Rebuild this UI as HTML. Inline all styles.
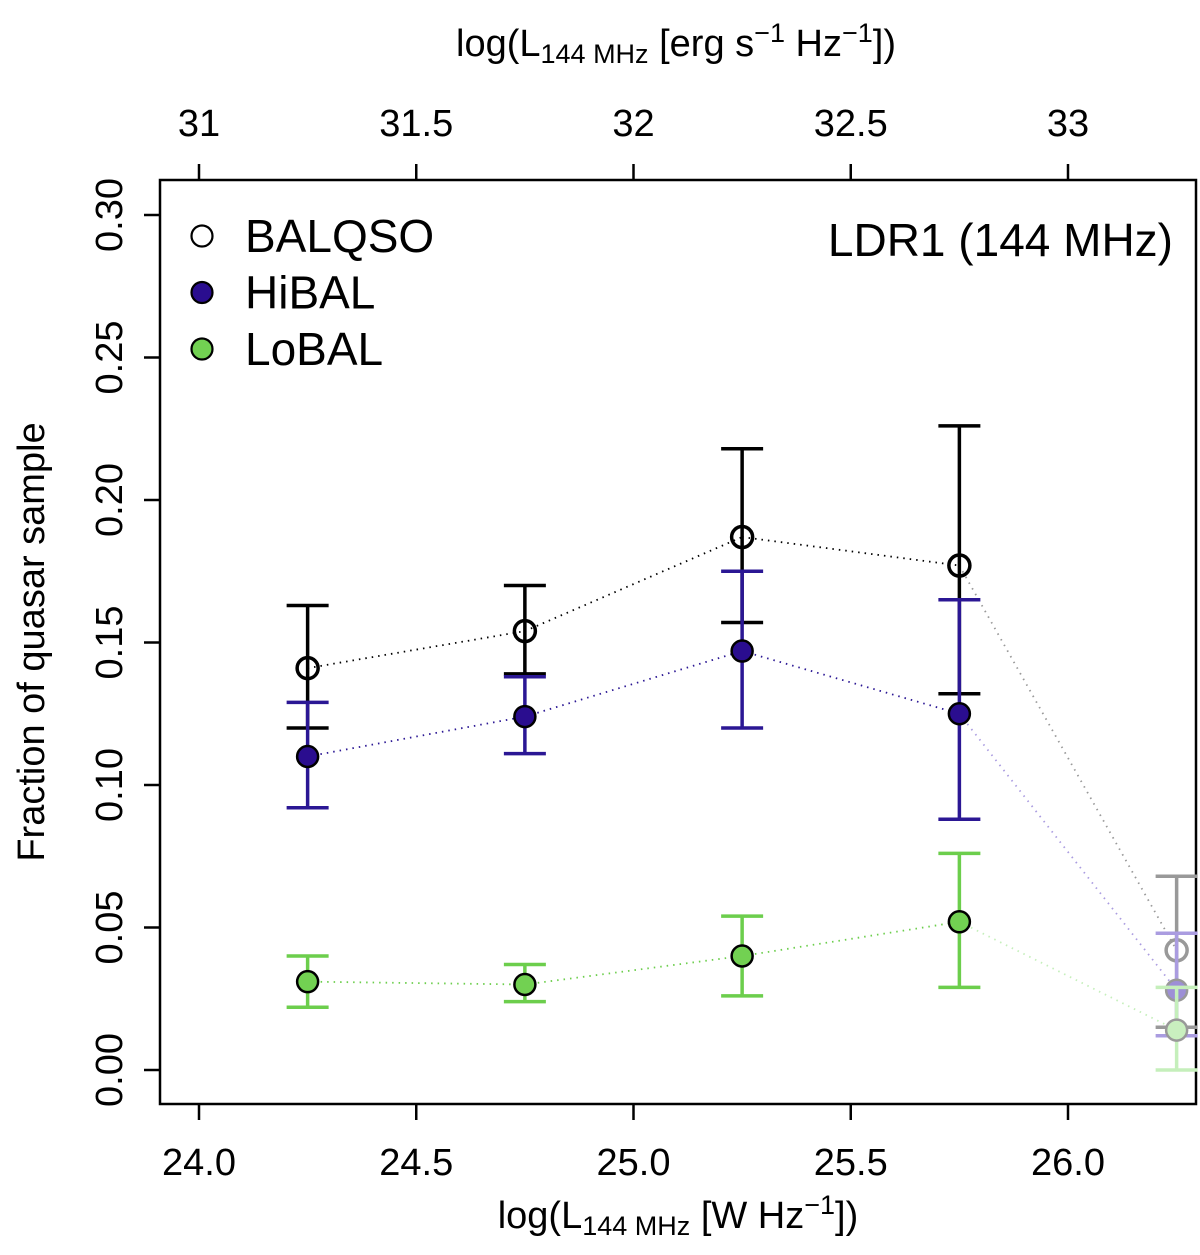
<!DOCTYPE html>
<html><head><meta charset="utf-8"><style>
html,body{margin:0;padding:0;background:#fff;}
svg{display:block;font-family:"Liberation Sans",sans-serif;}
</style></head><body>
<svg id="chart" width="1200" height="1255" viewBox="0 0 1200 1255">
<g id="g"></g>
</svg>
<script>
const xCats = [24.25, 24.75, 25.25, 25.75, 26.25];
const balVal = [0.141, 0.154, 0.187, 0.177, 0.042];
const balHi = [0.163, 0.170, 0.218, 0.226, 0.068];
const balLo = [0.120, 0.139, 0.157, 0.132, 0.015];
const hiVal = [0.110, 0.124, 0.147, 0.125, 0.028];
const hiHi = [0.129, 0.138, 0.175, 0.165, 0.048];
const hiLo = [0.092, 0.111, 0.120, 0.088, 0.012];
const loVal = [0.031, 0.030, 0.040, 0.052, 0.014];
const loHi = [0.040, 0.037, 0.054, 0.076, 0.029];
const loLo = [0.022, 0.024, 0.026, 0.029, 0.000];
const bottomTicks = [24.0, 24.5, 25.0, 25.5, 26.0];
const bottomLabels = ["24.0","24.5","25.0","25.5","26.0"];
const topTicks = [31, 31.5, 32, 32.5, 33];
const topLabels = ["31","31.5","32","32.5","33"];
const yTicks = [0, 0.05, 0.10, 0.15, 0.20, 0.25, 0.30];
const yLabels = ["0.00","0.05","0.10","0.15","0.20","0.25","0.30"];

const NS="http://www.w3.org/2000/svg";
const g=document.getElementById('g');
const X=v=>199+(v-24)*434.5;
const XT=v=>199+(v-31)*434.5;
const Y=v=>1070-v*2850;
function el(tag,attrs,name,text){
  const e=document.createElementNS(NS,tag);
  for(const k in attrs)e.setAttribute(k,attrs[k]);
  
  
  if(text!==undefined)e.textContent=text;
  g.appendChild(e);return e;
}
el('rect',{x:160,y:180,width:1036,height:924,fill:'none',stroke:'#000','stroke-width':2.5},'plot-frame');
bottomTicks.forEach((t,i)=>{
  el('line',{x1:X(t),x2:X(t),y1:1104,y2:1120,stroke:'#000','stroke-width':2.5},'x-tick');
  el('text',{x:X(t),y:1175,'font-size':38,'text-anchor':'middle'},'x-tick-label',bottomLabels[i]);
});
topTicks.forEach((t,i)=>{
  el('line',{x1:XT(t),x2:XT(t),y1:180,y2:164,stroke:'#000','stroke-width':2.5},'top-tick');
  el('text',{x:XT(t),y:136,'font-size':38,'text-anchor':'middle'},'top-tick-label',topLabels[i]);
});
yTicks.forEach((t,i)=>{
  el('line',{x1:160,x2:144,y1:Y(t),y2:Y(t),stroke:'#000','stroke-width':2.5},'y-tick');
  el('text',{x:0,y:0,'font-size':38,'text-anchor':'middle',transform:`translate(122,${Y(t)}) rotate(-90)`},'y-tick-label',yLabels[i]);
});
const xt=el('text',{x:678,y:1228,'font-size':38,'text-anchor':'middle'},'x-axis-title');
xt.innerHTML='log(L<tspan font-size="27" dy="7">144 MHz</tspan><tspan dy="-7"> [W Hz</tspan><tspan font-size="27" dy="-14">−1</tspan><tspan dy="14">])</tspan>';
const tt=el('text',{x:676,y:56,'font-size':38,'text-anchor':'middle'},'top-axis-title');
tt.innerHTML='log(L<tspan font-size="27" dy="7">144 MHz</tspan><tspan dy="-7"> [erg s</tspan><tspan font-size="27" dy="-14">−1</tspan><tspan dy="14"> Hz</tspan><tspan font-size="27" dy="-14">−1</tspan><tspan dy="14">])</tspan>';
el('text',{x:0,y:0,'font-size':38,'text-anchor':'middle',transform:'translate(44,642) rotate(-90)'},'y-axis-title','Fraction of quasar sample');
el('text',{x:1173,y:256,'font-size':46,'text-anchor':'end'},'panel-label','LDR1 (144 MHz)');

function series(vals,his,los,col,fadeCol,fill,fadeFill,stroke,fadeStroke,sw,name){
  const n=vals.length;
  for(let i=0;i<n-1;i++){
    const c=i===n-2?fadeCol:col;
    el('line',{x1:X(xCats[i]),y1:Y(vals[i]),x2:X(xCats[i+1]),y2:Y(vals[i+1]),stroke:c,'stroke-width':1.8,'stroke-dasharray':'1.5 5'},name+'-line');
  }
  for(let i=0;i<n;i++){
    const c=i===n-1?fadeCol:col, x=X(xCats[i]);
    el('line',{x1:x,x2:x,y1:Y(his[i]),y2:Y(los[i]),stroke:c,'stroke-width':3.5},name+'-errorbar');
    el('line',{x1:x-21,x2:x+21,y1:Y(his[i]),y2:Y(his[i]),stroke:c,'stroke-width':3.5},name+'-cap-high');
    el('line',{x1:x-21,x2:x+21,y1:Y(los[i]),y2:Y(los[i]),stroke:c,'stroke-width':3.5},name+'-cap-low');
  }
  for(let i=0;i<n;i++){
    const last=i===n-1;
    el('circle',{cx:X(xCats[i]),cy:Y(vals[i]),r:10.5,fill:last?fadeFill:fill,stroke:last?fadeStroke:stroke,'stroke-width':sw},name+'-point');
  }
}
series(balVal,balHi,balLo,'#000','#999','none','none','#000','#999',3.5,'balqso');
series(hiVal,hiHi,hiLo,'#2b1794','#aa9ce0','#2a0d8f','#9d8fd6','#000','#999',2.5,'hibal');
series(loVal,loHi,loLo,'#6cce4c','#c5efbb','#72d152','#c9efbf','#000','#999',2.5,'lobal');

const leg=[['BALQSO','#fff'],['HiBAL','#2a0d8f'],['LoBAL','#72d152']];
leg.forEach((l,i)=>{
  const y=236+i*56.5;
  el('circle',{cx:202,cy:y,r:10.5,fill:l[1],stroke:'#000','stroke-width':2.2},'legend-marker');
  el('text',{x:245,y:y+16,'font-size':46},'legend-entry',l[0]);
});
</script>
</body></html>
